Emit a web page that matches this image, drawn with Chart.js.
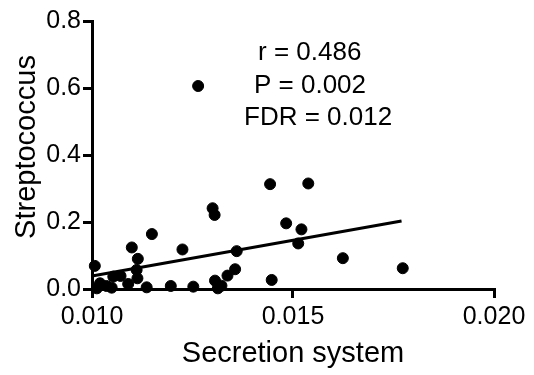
<!DOCTYPE html>
<html>
<head>
<meta charset="utf-8">
<script src="https://cdn.jsdelivr.net/npm/chart.js@4"></script>
<style>
  html, body { margin: 0; padding: 0; background: #fff; }
  #wrap { width: 534px; height: 375px; }
</style>
</head>
<body>
<div id="wrap"><canvas id="chart" width="534" height="375"></canvas></div>
<script>
// Data
const secretion = [
    0.01264, 0.01443, 0.01300, 0.01305, 0.01149, 0.01099, 0.01225, 0.01114,
    0.01360, 0.01007, 0.01356, 0.01337, 0.01111, 0.01071, 0.01053, 0.01113,
    0.01447, 0.01306, 0.01090, 0.01020, 0.01012, 0.01036, 0.01049, 0.01136,
    0.01196, 0.01252, 0.01313, 0.01322, 0.01538, 0.01483, 0.01521, 0.01513,
    0.01624, 0.01773
];
const streptococcus = [
    0.606, 0.313, 0.241, 0.221, 0.164, 0.124, 0.118, 0.090,
    0.113, 0.069, 0.059, 0.040, 0.057, 0.039, 0.037, 0.032,
    0.027, 0.025, 0.015, 0.017, 0.002, 0.009, 0.004, 0.005,
    0.009, 0.007, 0.002, 0.010, 0.315, 0.196, 0.178, 0.136,
    0.092, 0.062
];
// regression line ends
const fitX = [0.0100, 0.0177];
const fitY = [0.039, 0.203];

const xTicks = [0.010, 0.015, 0.020];
const yTicks = [0.0, 0.2, 0.4, 0.6, 0.8];
const statLines = ['r = 0.486', 'P = 0.002', 'FDR = 0.012'];

const FONT = '"Liberation Sans", Arial, Helvetica, sans-serif';

// Titles and stats text
const textPlugin = {
    id: 'textPlugin',
    afterDraw(chart) {
        const ctx = chart.ctx;
        const area = chart.chartArea;
        ctx.save();
        ctx.fillStyle = '#000';
        ctx.textAlign = 'center';
        ctx.textBaseline = 'middle';
        ctx.font = '29px ' + FONT;
        ctx.fillText('Secretion system', (area.left + area.right) / 2, 354);

        ctx.save();
        ctx.translate(27, 147);
        ctx.rotate(-Math.PI / 2);
        ctx.fillText('Streptococcus', 0, 0);
        ctx.restore();

        ctx.font = '26px ' + FONT;
        ctx.textAlign = 'left';
        const pos = [[258, 53], [254, 86], [244, 118]];
        statLines.forEach((s, i) => ctx.fillText(s, pos[i][0], pos[i][1]));
        ctx.restore();
    }
};

const ctx = document.getElementById('chart').getContext('2d');
new Chart(ctx, {
    type: 'scatter',
    data: {
        datasets: [
            {
                data: secretion.map((x, i) => ({ x: x, y: streptococcus[i] })),
                backgroundColor: '#000',
                borderColor: '#000',
                pointRadius: 5.5,
                pointHoverRadius: 5.5,
                clip: false
            },
            {
                type: 'line',
                data: fitX.map((x, i) => ({ x: x, y: fitY[i] })),
                borderColor: '#000',
                borderWidth: 3,
                pointRadius: 0,
                fill: false,
                clip: false
            }
        ]
    },
    options: {
        responsive: false,
        animation: false,
        events: [],
        layout: { padding: { top: 21, right: 40, left: 0, bottom: 0 } },
        plugins: {
            legend: { display: false },
            tooltip: { enabled: false }
        },
        scales: {
            x: {
                type: 'linear',
                min: 0.010,
                max: 0.020,
                afterBuildTicks: s => { s.ticks = xTicks.map(v => ({ value: v })); },
                afterFit: s => { s.height = 86; },
                ticks: {
                    color: '#000',
                    font: { family: FONT, size: 25 },
                    padding: 4,
                    maxRotation: 0,
                    callback: v => v.toFixed(3)
                },
                grid: {
                    display: true,
                    drawOnChartArea: false,
                    drawTicks: true,
                    tickLength: 9,
                    color: '#000',
                    lineWidth: 3
                },
                border: { display: true, color: '#000', width: 3 }
            },
            y: {
                type: 'linear',
                min: 0,
                max: 0.8,
                afterBuildTicks: s => { s.ticks = yTicks.map(v => ({ value: v })); },
                afterFit: s => { s.width = 92; },
                ticks: {
                    color: '#000',
                    font: { family: FONT, size: 25 },
                    padding: 2,
                    callback: v => v.toFixed(1)
                },
                grid: {
                    display: true,
                    drawOnChartArea: false,
                    drawTicks: true,
                    tickLength: 9,
                    color: '#000',
                    lineWidth: 3
                },
                border: { display: true, color: '#000', width: 3 }
            }
        }
    },
    plugins: [textPlugin]
});
</script>
</body>
</html>
